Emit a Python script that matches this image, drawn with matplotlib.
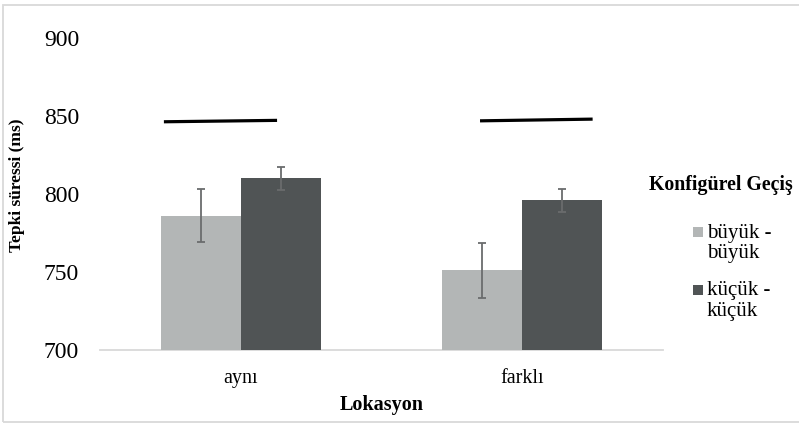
import matplotlib
matplotlib.use("Agg")
import matplotlib.pyplot as plt
from matplotlib.patches import Rectangle
import numpy as np

# data
categories = ["aynı", "farklı"]
series_names = ["büyük -\nbüyük", "küçük -\nküçük"]
buyuk_means = [786, 751]
buyuk_err = [17, 17.5]
kucuk_means = [810, 796]
kucuk_err = [7.5, 7.5]
# black reference lines above each group (x in category units)
line_x0 = [-0.273, 0.850]
line_x1 = [0.129, 1.250]
line_y0 = [846.3, 846.9]
line_y1 = [847.2, 848.0]
y_ticks = [700, 750, 800, 850, 900]

light = "#B3B6B6"
dark = "#505455"
err_color = "#6A6C6D"
grid_gray = "#D9D9D9"

plt.rcParams['font.family'] = ['Liberation Serif', 'DejaVu Serif']

fig = plt.figure(figsize=(7.99, 4.26), dpi=100)
ax = fig.add_axes([100 / 799, 76 / 426, 563 / 799, 312 / 426])

x = np.arange(len(categories))
w = 0.284
ax.bar(x - w / 2, buyuk_means, w, color=light, zorder=2)
ax.bar(x + w / 2, kucuk_means, w, color=dark, zorder=2)
ax.errorbar(x - w / 2, buyuk_means, yerr=buyuk_err, fmt="none",
            ecolor=err_color, elinewidth=1.3, capsize=3, capthick=1.3, zorder=3)
ax.errorbar(x + w / 2, kucuk_means, yerr=kucuk_err, fmt="none",
            ecolor=err_color, elinewidth=1.3, capsize=3, capthick=1.3, zorder=3)

for i in range(len(line_x0)):
    ax.plot([line_x0[i], line_x1[i]], [line_y0[i], line_y1[i]],
            color="black", lw=2.3, solid_capstyle="butt", zorder=4)

ax.set_xlim(-0.5, 1.5)
ax.set_ylim(700, 900)
ax.set_yticks(y_ticks)
ax.set_yticklabels([str(v) for v in y_ticks], fontsize=17)
ax.set_xticks(x)
ax.set_xticklabels(categories, fontsize=14.5)
ax.tick_params(axis="y", length=0, pad=15)
ax.tick_params(axis="x", length=0, pad=14)

for s in ["top", "right", "left"]:
    ax.spines[s].set_visible(False)
ax.spines["bottom"].set_color(grid_gray)
ax.spines["bottom"].set_linewidth(1.3)
ax.spines["bottom"].set_zorder(1)

fig.text(381.5 / 799, 1 - 405 / 426, "Lokasyon", fontsize=14.5,
         fontweight="bold", ha="center", va="center")
fig.text(17 / 799, 1 - 185 / 426, "Tepki süressi (ms)", fontsize=12.5,
         fontweight="bold", ha="center", va="center", rotation=90)

# legend drawn by hand so the square sits on the first line of each label
fig.text(649 / 799, 1 - 185 / 426, "Konfigürel Geçiş", fontsize=14.3,
         fontweight="bold", ha="left", va="center")
entry_centers = [243.3, 301.0]
for name, color, yc in zip(series_names, [light, dark], entry_centers):
    sq_y = yc - 11.5
    fig.add_artist(Rectangle((693 / 799, 1 - (sq_y + 5) / 426), 10 / 799, 10 / 426,
                             transform=fig.transFigure, color=color, lw=0))
    fig.text(707 / 799, 1 - yc / 426, name, fontsize=15, ha="left",
             va="center", linespacing=1.1)

# light frame around the whole chart
fig.add_artist(Rectangle((3 / 799, 4 / 426), 800 / 799, 417 / 426,
                         transform=fig.transFigure, fill=False,
                         edgecolor=grid_gray, lw=1.3))

fig.savefig("out.png", dpi=100)
